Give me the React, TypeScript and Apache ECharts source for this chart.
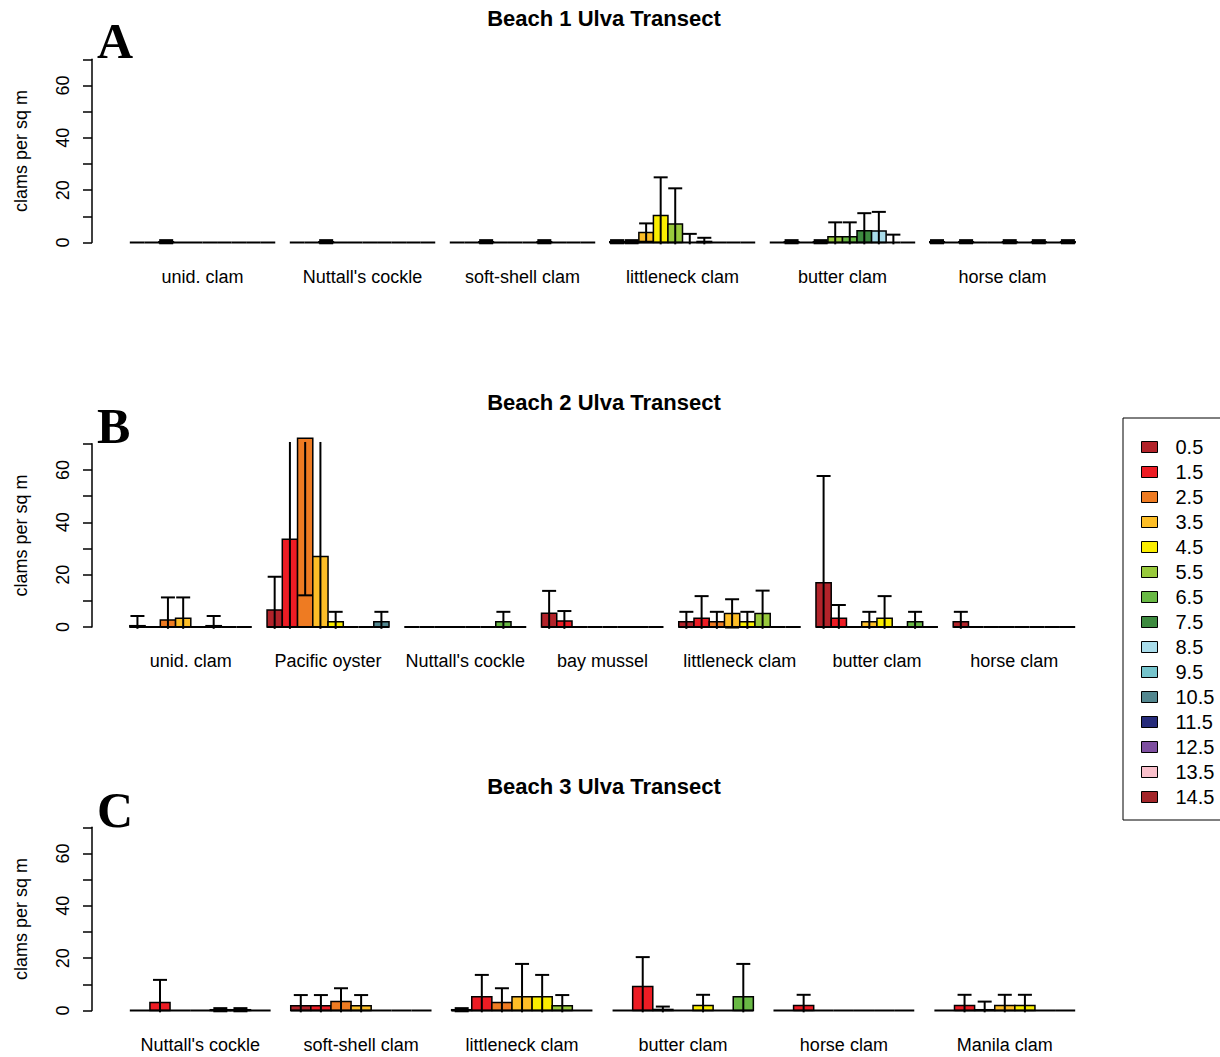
import React, { useEffect, useRef } from "react";
import * as echarts from "echarts";

// ---- data ----
const depths = ["0.5","1.5","2.5","3.5","4.5","5.5","6.5","7.5","8.5","9.5","10.5","11.5","12.5","13.5","14.5"];
const depthColors = ["#B2232A","#ED1C24","#EE7B22","#FDBE27","#FAED00","#98C93C","#69B945","#3D8A3F","#A9DCEA","#76C4CC","#53878F","#262B7A","#7E4FA0","#F9C0CB","#A3262A"];

// depth indices (into depths) present on each beach, in bar order
const beach1DepthIdx = [1,2,3,4,5,6,7,8,9,10];
const beach2DepthIdx = [0,1,2,3,4,5,6,10];
const beach3DepthIdx = [0,1,2,3,4,5,6];

const beach1Categories = ["unid. clam","Nuttall's cockle","soft-shell clam","littleneck clam","butter clam","horse clam"];
const beach1Means = [
  [0,0,0.3,0,0,0,0,0,0,0],
  [0,0,0.3,0,0,0,0,0,0,0],
  [0,0,0.3,0,0,0,0.3,0,0,0],
  [0.3,0.3,3.8,10.3,7.1,0,0.4,0,0,0],
  [0,0.3,0,0.3,2.2,2.2,4.5,4.4,0,0],
  [0.3,0,0.3,0,0,0.3,0,0.3,0,0.3],
];
const beach1Errors = [
  [0,0,0.6,0,0,0,0,0,0,0],
  [0,0,0.6,0,0,0,0,0,0,0],
  [0,0,0.6,0,0,0,0.6,0,0,0],
  [0.6,0.6,3.5,14.6,13.6,3.3,1.4,0,0,0],
  [0,0.6,0,0.6,5.5,5.5,6.7,7.3,3.0,0],
  [0.6,0,0.6,0,0,0.6,0,0.6,0,0.6],
];

const beach2Categories = ["unid. clam","Pacific oyster","Nuttall's cockle","bay mussel","littleneck clam","butter clam","horse clam"];
const beach2Means = [
  [0.5,0,2.7,3.3,0,0.5,0,0],
  [6.5,33.5,72.1,26.9,2.0,0,0,2.0],
  [0,0,0,0,0,0,2.0,0],
  [5.3,2.3,0,0,0,0,0,0],
  [2.0,3.3,2.0,5.2,2.0,5.2,0,0],
  [16.9,3.3,0,2.0,3.3,0,2.0,0],
  [2.0,0,0,0,0,0,0,0],
];
const beach2Errors = [
  [3.7,0,8.6,8.0,0,3.7,0,0],
  [12.7,45,60,50,3.8,0,0,3.8],
  [0,0,0,0,0,0,3.8,0],
  [8.5,3.8,0,0,0,0,0,0],
  [3.8,8.5,3.8,5.4,3.8,8.7,0,0],
  [40.8,5.1,0,3.8,8.5,0,3.8,0],
  [3.8,0,0,0,0,0,0,0],
];

const beach3Categories = ["Nuttall's cockle","soft-shell clam","littleneck clam","butter clam","horse clam","Manila clam"];
const beach3Means = [
  [0,3.1,0,0,0.3,0.3,0],
  [1.8,1.8,3.4,1.8,0,0,0],
  [0.3,5.3,3.1,5.3,5.3,1.8,0],
  [0,9.2,0.4,0,1.9,0,5.3],
  [0,1.9,0,0,0,0,0],
  [0,1.9,0.3,1.9,1.9,0,0],
];
const beach3Errors = [
  [0,8.6,0,0,0.6,0.6,0],
  [4.1,4.1,5.1,4.1,0,0,0],
  [0.6,8.3,5.4,12.5,8.3,4.1,0],
  [0,11.2,1.1,0,4.1,0,12.5],
  [0,4.1,0,0,0,0,0],
  [0,4.1,3.1,4.1,4.1,0,0],
];

const panelTitles = ["Beach 1 Ulva Transect","Beach 2 Ulva Transect","Beach 3 Ulva Transect"];
const panelLetters = ["A","B","C"];
const yTicks = [0,10,20,30,40,50,60,70];

// ---- layout ----
const GRID_LEFT = 92;
const GRID_WIDTH = 1021;
const GRID_HEIGHT = 183.2;
const gridTops = [59.3, 443.8, 827.3];
const titleYs = [18.5, 402.5, 786];
const letterYs = [41, 426, 810];
const FONT = '"Liberation Sans", Arial, sans-serif';

function buildPanel(cats: string[], means: number[][], errs: number[][], depthIdx: number[]) {
  const n = depthIdx.length;
  const G = cats.length;
  const total = G * n + (G - 1);
  const xmin = 1 - 0.04 * total;
  const xmax = 1 + total + 0.04 * total;
  const centers: number[] = [];
  const data: number[][] = [];
  for (let g = 0; g < G; g++) {
    const start = 1 + g * (n + 1);
    centers.push(start + n / 2);
    for (let b = 0; b < n; b++) {
      data.push([start + b + 0.5, means[g][b], errs[g][b], depthIdx[b]]);
    }
  }
  return { xmin, xmax, centers, data, cats };
}

const panels = [
  buildPanel(beach1Categories, beach1Means, beach1Errors, beach1DepthIdx),
  buildPanel(beach2Categories, beach2Means, beach2Errors, beach2DepthIdx),
  buildPanel(beach3Categories, beach3Means, beach3Errors, beach3DepthIdx),
];

const BAR_CLIP = 72.8;
const ERR_CLIP = 70.7;
const LOW_CLIP = -0.7;
const CAP_HALF = 7;

function renderBar(params: any, api: any) {
  const x = api.value(0);
  const m = api.value(1);
  const e = api.value(2);
  const ci = api.value(3);
  const p0 = api.coord([x - 0.5, 0]);
  const p1 = api.coord([x + 0.5, Math.min(m, BAR_CLIP)]);
  const children: any[] = [];
  if (m > 0) {
    children.push({
      type: "rect",
      shape: { x: p0[0], y: p1[1], width: p1[0] - p0[0], height: p0[1] - p1[1] },
      style: { fill: depthColors[ci], stroke: "#000", lineWidth: 1.5 },
    });
  }
  children.push({
    type: "line",
    shape: { x1: p0[0], y1: p0[1], x2: p1[0], y2: p0[1] },
    style: { stroke: "#000", lineWidth: 2 },
  });
  if (e > 0) {
    const top = m + e;
    const low = m - e;
    const pt = api.coord([x, Math.min(top, ERR_CLIP)]);
    const pb = api.coord([x, Math.max(low, LOW_CLIP)]);
    children.push({
      type: "line",
      shape: { x1: pt[0], y1: pt[1], x2: pb[0], y2: pb[1] },
      style: { stroke: "#000", lineWidth: 2 },
    });
    if (top <= ERR_CLIP) {
      children.push({
        type: "line",
        shape: { x1: pt[0] - CAP_HALF, y1: pt[1], x2: pt[0] + CAP_HALF, y2: pt[1] },
        style: { stroke: "#000", lineWidth: 2 },
      });
    }
    if (low >= LOW_CLIP) {
      children.push({
        type: "line",
        shape: { x1: pb[0] - CAP_HALF, y1: pb[1], x2: pb[0] + CAP_HALF, y2: pb[1] },
        style: { stroke: "#000", lineWidth: 2 },
      });
    }
  }
  return { type: "group", children };
}

function buildOption() {
  const grid = panels.map((_, i) => ({ left: GRID_LEFT, width: GRID_WIDTH, top: gridTops[i], height: GRID_HEIGHT }));
  const xAxis = panels.map((p, i) => ({
    type: "value",
    gridIndex: i,
    min: p.xmin,
    max: p.xmax,
    axisLine: { show: false, onZero: false },
    axisTick: { show: false },
    splitLine: { show: false },
    axisLabel: {
      customValues: p.centers,
      margin: 25,
      color: "#000",
      fontSize: 18,
      fontFamily: FONT,
      formatter: (v: number) => {
        let best = 0;
        p.centers.forEach((c, k) => { if (Math.abs(c - v) < Math.abs(p.centers[best] - v)) best = k; });
        return p.cats[best];
      },
    },
  }));
  const yAxis = panels.map((_, i) => ({
    type: "value",
    gridIndex: i,
    min: 0,
    max: 70,
    interval: 10,
    name: "clams per sq m",
    nameLocation: "middle",
    nameGap: 62,
    nameTextStyle: { fontSize: 18, color: "#000", fontFamily: FONT },
    splitLine: { show: false },
    axisLine: { show: true, onZero: false, lineStyle: { color: "#000", width: 1.5 } },
    axisTick: { show: true, length: 9, lineStyle: { color: "#000", width: 1.5 }, customValues: yTicks },
    axisLabel: {
      rotate: 90,
      margin: 20,
      fontSize: 18,
      color: "#000",
      fontFamily: FONT,
      formatter: (v: number) => (v % 20 === 0 ? String(v) : ""),
    },
  }));
  const series: any[] = panels.map((p, i) => ({
    type: "custom",
    name: panelTitles[i],
    xAxisIndex: i,
    yAxisIndex: i,
    clip: false,
    renderItem: renderBar,
    encode: { x: 0, y: 1 },
    data: p.data,
    silent: true,
  }));
  depths.forEach((d, k) => {
    series.push({
      type: "bar",
      name: d,
      xAxisIndex: 1,
      yAxisIndex: 1,
      data: [],
      itemStyle: { color: depthColors[k], borderColor: "#000", borderWidth: 1 },
    });
  });
  const graphic: any[] = [];
  panelTitles.forEach((t, i) => {
    graphic.push({
      type: "text",
      x: 604,
      y: titleYs[i],
      style: { text: t, font: `bold 22px ${FONT}`, fill: "#000", align: "center", verticalAlign: "middle" },
    });
    graphic.push({
      type: "text",
      x: 97,
      y: letterYs[i],
      style: { text: panelLetters[i], font: 'bold 50px "Liberation Serif", "Times New Roman", serif', fill: "#000", align: "left", verticalAlign: "middle" },
    });
  });
  return {
    animation: false,
    backgroundColor: "#fff",
    textStyle: { fontFamily: FONT },
    grid,
    xAxis,
    yAxis,
    series,
    graphic,
    legend: {
      data: depths,
      orient: "vertical",
      left: 1123,
      top: 418,
      padding: [19, 40, 13, 18],
      itemWidth: 16,
      itemHeight: 11,
      itemGap: 5,
      icon: "rect",
      selectedMode: false,
      borderColor: "#000",
      borderWidth: 1,
      itemStyle: { borderColor: "#000", borderWidth: 1 },
      textStyle: { fontSize: 20, lineHeight: 20, color: "#000", fontFamily: FONT, padding: [0, 0, 0, 13] },
    },
  };
}

export default function App() {
  const ref = useRef<HTMLDivElement>(null);
  useEffect(() => {
    if (!ref.current) return;
    const chart = echarts.init(ref.current, undefined, { renderer: "svg" });
    chart.setOption(buildOption() as any);
    return () => chart.dispose();
  }, []);
  return <div ref={ref} style={{ position: "absolute", left: 0, top: 0, width: 1220, height: 1057, background: "#fff" }} />;
}
